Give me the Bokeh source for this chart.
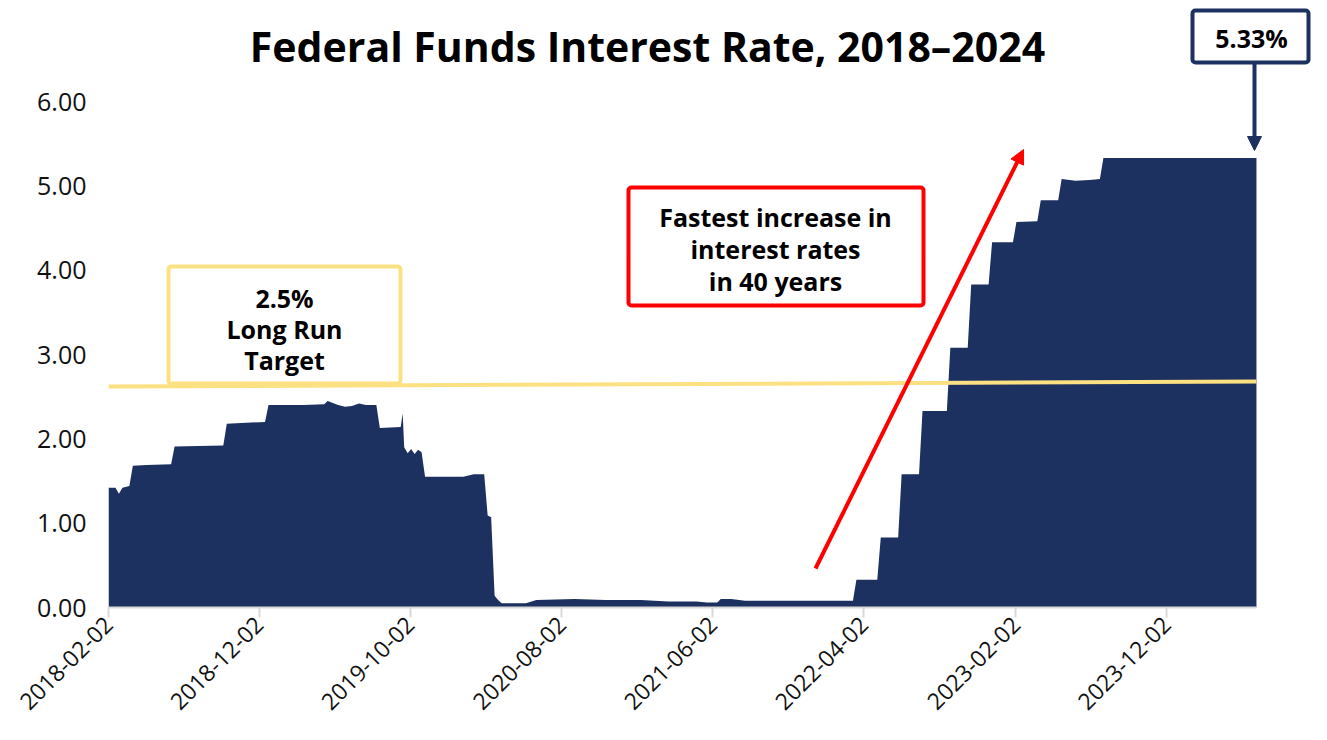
import pandas as pd
from math import pi
from bokeh.plotting import figure
from bokeh.models import (FixedTicker, DatetimeTickFormatter, PrintfTickFormatter, Range1d,
                          Label, BoxAnnotation, Arrow, NormalHead)
from bokeh.embed import file_html
from bokeh.resources import INLINE

# ---------------- data ----------------
dates = [
    "2018-02-02", "2018-02-16", "2018-02-23", "2018-03-02", "2018-03-16", "2018-03-23",
    "2018-04-20", "2018-06-08", "2018-06-15", "2018-09-21", "2018-09-28", "2018-12-14",
    "2018-12-21", "2019-03-01", "2019-04-12", "2019-04-19", "2019-05-10", "2019-05-24",
    "2019-06-07", "2019-06-21", "2019-07-05", "2019-07-19", "2019-07-26", "2019-08-02",
    "2019-09-13", "2019-09-17", "2019-09-20", "2019-09-27", "2019-10-04", "2019-10-11",
    "2019-10-18", "2019-10-25", "2019-11-01", "2019-12-27", "2020-01-17", "2020-02-07",
    "2020-02-28", "2020-03-06", "2020-03-13", "2020-03-20", "2020-03-27", "2020-04-03",
    "2020-05-22", "2020-06-12", "2020-08-28", "2020-10-30", "2021-01-08", "2021-03-05",
    "2021-04-30", "2021-05-21", "2021-06-11", "2021-06-18", "2021-07-09", "2021-08-06",
    "2021-10-01", "2022-03-11", "2022-03-18", "2022-04-29", "2022-05-06", "2022-06-10",
    "2022-06-17", "2022-07-22", "2022-07-29", "2022-09-16", "2022-09-23", "2022-10-28",
    "2022-11-04", "2022-12-09", "2022-12-16", "2023-01-27", "2023-02-03", "2023-03-17",
    "2023-03-24", "2023-04-28", "2023-05-05", "2023-06-02", "2023-06-30", "2023-07-21",
    "2023-07-28", "2024-05-31",
]
rates = [
    1.42, 1.42, 1.35, 1.42, 1.44, 1.68,
    1.69, 1.70, 1.91, 1.92, 2.18, 2.20,
    2.40, 2.40, 2.41, 2.45, 2.40, 2.38,
    2.39, 2.42, 2.40, 2.40, 2.40, 2.13,
    2.14, 2.30, 1.90, 1.83, 1.88, 1.82,
    1.87, 1.84, 1.55, 1.55, 1.55, 1.58,
    1.58, 1.09, 1.07, 0.14, 0.09, 0.05,
    0.05, 0.09, 0.10, 0.09, 0.09, 0.07,
    0.07, 0.06, 0.06, 0.10, 0.10, 0.08,
    0.08, 0.08, 0.33, 0.33, 0.83, 0.83,
    1.58, 1.58, 2.33, 2.33, 3.08, 3.08,
    3.83, 3.83, 4.33, 4.33, 4.57, 4.58,
    4.83, 4.83, 5.08, 5.06, 5.07, 5.08,
    5.33, 5.33,
]
tick_labels = ["2018-02-02", "2018-12-02", "2019-10-02", "2020-08-02",
               "2021-06-02", "2022-04-02", "2023-02-02", "2023-12-02"]
y_ticks = [0, 1, 2, 3, 4, 5, 6]
target_line = [2.62, 2.68]
title_text = "Federal Funds Interest Rate, 2018\u20132024"
target_text = ["2.5%", "Long Run", "Target"]
increase_text = ["Fastest increase in", "interest rates", "in 40 years"]
latest_text = "5.33%"

# ---------------- styling / layout ----------------
NAVY = "#1c3160"
YELLOW = "#fce183"
RED = "#ff0000"
FONT = "Open Sans"

def ms(d):
    return pd.Timestamp(d).value / 1e6

x_vals = pd.to_datetime(dates)
X0 = ms(dates[0])
PX0, PX_PER_MS = 108.0, 0.49695 / 86400000.0

def xd(px):  # picture-pixel x -> data x (ms)
    return X0 + (px - PX0) / PX_PER_MS

def yd(py):  # picture-pixel y -> data y
    return (607.0 - py) / 84.33

p = figure(x_axis_type="datetime", frame_width=1203, frame_height=607,
           min_border_left=108, min_border_right=0, min_border_top=0, min_border_bottom=117,
           toolbar_location=None, output_backend="svg",
           x_range=Range1d(ms(dates[0]), xd(1311)), y_range=Range1d(0, yd(0)))
p.outline_line_color = None
p.xgrid.visible = False
p.ygrid.visible = False
p.background_fill_color = "white"
p.border_fill_color = "white"

p.varea(x=x_vals, y1=0, y2=rates, fill_color=NAVY)
p.line(x=[x_vals[0], x_vals[-1]], y=target_line, line_color=YELLOW, line_width=4)

# axes
yax = p.yaxis[0]
yax.ticker = FixedTicker(ticks=y_ticks)
yax.formatter = PrintfTickFormatter(format="%.2f")
yax.axis_line_color = None
yax.major_tick_line_color = None
yax.minor_tick_line_color = None
yax.major_tick_out = 0
yax.major_tick_in = 0
yax.major_label_standoff = 22
yax.major_label_text_font = FONT
yax.major_label_text_font_size = "25px"
yax.major_label_text_color = "#111111"

xax = p.xaxis[0]
xax.ticker = FixedTicker(ticks=[ms(t) for t in tick_labels])
xax.bounds = (ms(dates[0]), ms(dates[-1]))
fmt = "%Y-%m-%d"
xax.formatter = DatetimeTickFormatter(milliseconds=fmt, seconds=fmt, minsec=fmt, minutes=fmt,
                                      hourmin=fmt, hours=fmt, days=fmt, months=fmt, years=fmt)
xax.axis_line_color = "#d9d9d9"
xax.axis_line_width = 2
xax.major_tick_line_color = "#d9d9d9"
xax.major_tick_line_width = 2
xax.major_tick_out = 10
xax.major_tick_in = 0
xax.minor_tick_line_color = None
xax.major_label_orientation = pi / 4
xax.major_label_standoff = 3
xax.major_label_text_font = FONT
xax.major_label_text_font_size = "23px"
xax.major_label_text_color = "#111111"

# title
p.add_layout(Label(x=xd(647), y=yd(45), text=title_text, text_align="center",
                   text_baseline="middle", text_font=FONT, text_font_style="bold",
                   text_font_size="41px", text_color="black"))

# long-run target box
p.add_layout(BoxAnnotation(left=xd(168), right=xd(400), top=yd(266), bottom=yd(383),
                           fill_color="white", fill_alpha=1, line_color=YELLOW, line_width=4,
                           line_alpha=1, border_radius=3))
for i, t in enumerate(target_text):
    p.add_layout(Label(x=xd(284), y=yd(297 + 31 * i), text=t, text_align="center",
                       text_baseline="middle", text_font=FONT, text_font_style="bold",
                       text_font_size="25px", text_color="black"))

# fastest increase box
p.add_layout(BoxAnnotation(left=xd(628), right=xd(923), top=yd(187), bottom=yd(305),
                           fill_color="white", fill_alpha=1, line_color=RED, line_width=4,
                           line_alpha=1, border_radius=3))
for i, t in enumerate(increase_text):
    p.add_layout(Label(x=xd(775), y=yd(216 + 32 * i), text=t, text_align="center",
                       text_baseline="middle", text_font=FONT, text_font_style="bold",
                       text_font_size="25px", text_color="black"))

p.add_layout(Arrow(end=NormalHead(size=14, fill_color=RED, line_color=RED),
                   x_start=xd(815), y_start=yd(568), x_end=xd(1023), y_end=yd(149),
                   line_color=RED, line_width=4))

# latest value box
p.add_layout(BoxAnnotation(left=xd(1192), right=xd(1308), top=yd(10), bottom=yd(62),
                           fill_color="white", fill_alpha=1, line_color=NAVY, line_width=4,
                           line_alpha=1, border_radius=3))
p.add_layout(Label(x=xd(1251), y=yd(37), text=latest_text, text_align="center",
                   text_baseline="middle", text_font=FONT, text_font_style="bold",
                   text_font_size="25px", text_color="black"))
p.add_layout(Arrow(end=NormalHead(size=14, fill_color=NAVY, line_color=NAVY),
                   x_start=xd(1254), y_start=yd(63), x_end=xd(1254), y_end=yd(150),
                   line_color=NAVY, line_width=4))

open("out.html", "w").write(file_html(p, INLINE))
